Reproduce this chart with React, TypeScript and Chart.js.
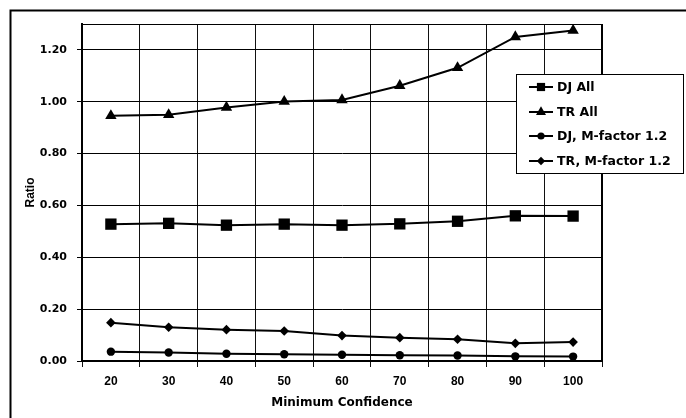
import React, { useEffect, useRef } from "react";
import { Chart, registerables } from "chart.js";

Chart.register(...registerables);

const categories = ["20", "30", "40", "50", "60", "70", "80", "90", "100"];
const djAll = [0.528, 0.531, 0.524, 0.528, 0.524, 0.529, 0.539, 0.56, 0.559];
const trAll = [0.946, 0.95, 0.978, 1.001, 1.007, 1.062, 1.131, 1.25, 1.275];
const djM = [0.036, 0.033, 0.028, 0.026, 0.024, 0.022, 0.021, 0.018, 0.017];
const trM = [0.148, 0.13, 0.121, 0.116, 0.098, 0.09, 0.084, 0.068, 0.073];
const yTicks = [0, 0.2, 0.4, 0.6, 0.8, 1.0, 1.2];
const seriesNames = ["DJ All", "TR All", "DJ, M-factor 1.2", "TR, M-factor 1.2"];

function drawMarker(ctx: CanvasRenderingContext2D, style: string, x: number, y: number, r: number) {
  ctx.beginPath();
  if (style === "rect") {
    const s = Math.SQRT1_2 * r;
    ctx.rect(x - s, y - s, 2 * s, 2 * s);
  } else if (style === "triangle") {
    let rad = 0;
    ctx.moveTo(x + Math.sin(rad) * r, y - Math.cos(rad) * r);
    rad += (2 * Math.PI) / 3;
    ctx.lineTo(x + Math.sin(rad) * r, y - Math.cos(rad) * r);
    rad += (2 * Math.PI) / 3;
    ctx.lineTo(x + Math.sin(rad) * r, y - Math.cos(rad) * r);
    ctx.closePath();
  } else if (style === "circle") {
    ctx.arc(x, y, r, 0, Math.PI * 2);
  } else {
    ctx.moveTo(x, y - r);
    ctx.lineTo(x + r, y);
    ctx.lineTo(x, y + r);
    ctx.lineTo(x - r, y);
    ctx.closePath();
  }
  ctx.fill();
}

const framePlugin = {
  id: "frames",
  afterDraw(chart: any) {
    const ctx = chart.ctx as CanvasRenderingContext2D;
    const a = chart.chartArea;
    ctx.save();
    ctx.strokeStyle = "#000";
    // plot area top/right border
    ctx.lineWidth = 1;
    ctx.beginPath();
    ctx.moveTo(a.left, a.top + 0.5);
    ctx.lineTo(a.right, a.top + 0.5);
    ctx.stroke();
    ctx.lineWidth = 2;
    ctx.beginPath();
    ctx.moveTo(a.right, a.top);
    ctx.lineTo(a.right, a.bottom);
    ctx.stroke();
    // outer frame
    ctx.lineWidth = 2;
    ctx.strokeRect(10.5, 10.5, 720, 440);

    // legend
    const lx = 516, ly = 74, lw = 167, lh = 99;
    ctx.fillStyle = "#fff";
    ctx.fillRect(lx, ly, lw, lh);
    ctx.lineWidth = 1;
    ctx.strokeRect(lx + 0.5, ly + 0.5, lw, lh);
    const styles = ["rect", "triangle", "circle", "rectRot"];
    const radii = [5.8, 5.8, 3.6, 4.2];
    const rows = [87, 112, 136, 161];
    ctx.font = "bold 12.5px 'DejaVu Sans'";
    ctx.textBaseline = "middle";
    ctx.textAlign = "left";
    seriesNames.forEach((name, i) => {
      const y = rows[i];
      ctx.strokeStyle = "#000";
      ctx.lineWidth = 2;
      ctx.beginPath();
      ctx.moveTo(529, y);
      ctx.lineTo(553, y);
      ctx.stroke();
      ctx.fillStyle = "#000";
      drawMarker(ctx, styles[i], 541, y, radii[i]);
      ctx.fillText(name, 557, y + 0.5);
    });
    ctx.restore();
  },
};

export default function App() {
  const ref = useRef<HTMLCanvasElement | null>(null);
  useEffect(() => {
    document.body.style.margin = "0";
    const canvas = ref.current!;
    const common = {
      borderColor: "#000",
      backgroundColor: "#000",
      pointBackgroundColor: "#000",
      pointBorderColor: "#000",
      borderWidth: 2,
      pointBorderWidth: 0,
      fill: false,
      tension: 0,
    };
    const chart = new Chart(canvas, {
      type: "line",
      data: {
        labels: categories,
        datasets: [
          { ...common, label: seriesNames[0], data: djAll, pointStyle: "rect", pointRadius: 8 },
          { ...common, label: seriesNames[1], data: trAll, pointStyle: "triangle", pointRadius: 6.6 },
          { ...common, label: seriesNames[2], data: djM, pointStyle: "circle", pointRadius: 4.2 },
          { ...common, label: seriesNames[3], data: trM, pointStyle: "rectRot", pointRadius: 4.8 },
        ],
      },
      options: {
        responsive: false,
        animation: false,
        layout: { padding: { left: 0, top: 24, right: 84, bottom: 0 } },
        plugins: {
          legend: { display: false },
          tooltip: { enabled: false },
          title: { display: false },
        },
        scales: {
          x: {
            type: "category",
            offset: true,
            grid: { offset: true, color: "#111", lineWidth: 1, tickLength: 6, drawTicks: true },
            border: { display: true, color: "#000", width: 2 },
            ticks: { color: "#000", font: { family: "'Liberation Sans', Arial", weight: "bold", size: 12 }, padding: 7, maxRotation: 0 },
            title: {
              display: true,
              text: "Minimum Confidence",
              color: "#000",
              font: { family: "'DejaVu Sans'", weight: "bold", size: 12 },
              padding: { top: 0, bottom: 8 },
            },
            afterFit: (s: any) => {
              s.height = 57;
            },
          },
          y: {
            min: 0,
            max: 1.3,
            afterBuildTicks: (s: any) => {
              s.ticks = yTicks.map((v) => ({ value: v }));
            },
            grid: { color: "#000", lineWidth: 1, tickLength: 5, drawTicks: true },
            border: { display: true, color: "#000", width: 2 },
            ticks: {
              color: "#000",
              font: { family: "'DejaVu Sans'", weight: "bold", size: 11 },
              padding: 10,
              callback: (v: any) => Number(v).toFixed(2),
            },
            title: {
              display: true,
              text: "Ratio",
              color: "#000",
              font: { family: "'Liberation Sans', Arial", weight: "bold", size: 12 },
              padding: { top: 23, bottom: 0 },
            },
            afterFit: (s: any) => {
              s.width = 82;
            },
          },
        },
      },
      plugins: [framePlugin],
    });
    return () => chart.destroy();
  }, []);
  return <canvas ref={ref} width={686} height={418} style={{ display: "block" }} />;
}
